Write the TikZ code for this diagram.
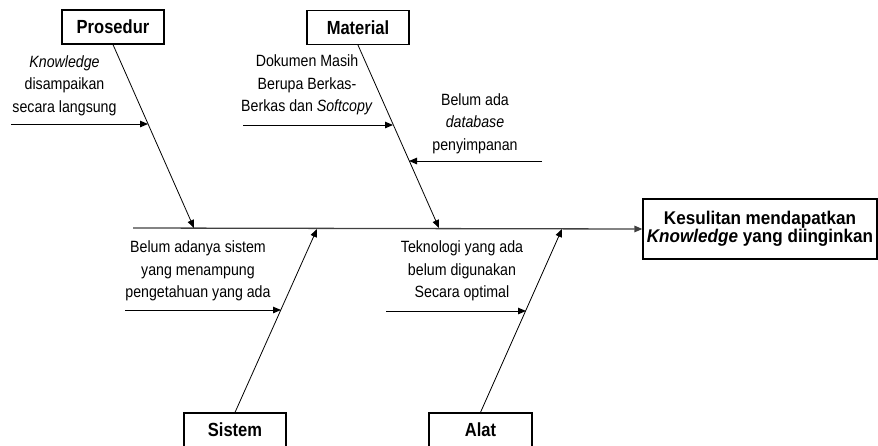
\documentclass[tikz,border=0pt]{standalone}
\usepackage{fontspec}
\setmainfont{Liberation Sans}[FakeStretch=0.87]
\newfontfamily\headfont{Liberation Sans}[FakeStretch=0.87]
\newfontfamily\effectfont{Liberation Sans}[FakeStretch=0.93]
\usetikzlibrary{arrows.meta}
\begin{document}
\begin{tikzpicture}[x=1pt,y=-1pt,
  headbox/.style={draw,line width=1.2pt,minimum height=34pt,inner sep=0pt,
    font=\headfont\fontsize{19}{21}\selectfont\bfseries},
  cause/.style={align=center,inner sep=0pt,
    font=\fontsize{16.3}{22.5}\selectfont},
  tip/.style={-{Triangle[length=8pt,width=6.5pt]}},
  bone/.style={tip,line width=0.8pt},
  minor/.style={tip,line width=1pt},
  spine/.style={tip,line width=1.3pt,draw=black!75}]
\useasboundingbox (0,0) rectangle (878,445);

% category boxes and the effect box
\node[headbox,minimum width=102pt] (prosedur) at (113,27) {Prosedur};
\node[headbox,minimum width=102pt] (material) at (358,27.5) {Material};
\node[headbox,minimum width=102pt] (sistem) at (235,430) {Sistem};
\node[headbox,minimum width=103pt] (alat) at (480.5,430) {Alat};
\node[headbox,minimum width=234pt,minimum height=60pt,align=center,
  font=\effectfont\fontsize{18.4}{18.5}\selectfont\bfseries] (effect) at (760,229)
  {Kesulitan mendapatkan\\\textit{Knowledge} yang diinginkan};

% main spine
\coordinate (tail) at (133,228);
\draw[spine] (tail) -- (effect.west);

% where the bones meet the spine
\coordinate (jp) at (194,228);
\coordinate (jm) at (439,228);
\coordinate (js) at (317,229);
\coordinate (ja) at (562,229);
\draw[bone] (prosedur.south) -- (jp);
\draw[bone] (material.south) -- (jm);
\draw[bone] (sistem.north) -- (js);
\draw[bone] (alat.north) -- (ja);

% causes on the bones
\coordinate (c1s) at (11,124);   \coordinate (c1e) at (148,124);
\coordinate (c2s) at (243,125);  \coordinate (c2e) at (393,125);
\coordinate (c3s) at (542,161);  \coordinate (c3e) at (409,161);
\coordinate (c4s) at (125,310);  \coordinate (c4e) at (281,310);
\coordinate (c5s) at (386,311);  \coordinate (c5e) at (526,311);
\draw[minor] (c1s) -- (c1e);
\draw[minor] (c2s) -- (c2e);
\draw[minor] (c3s) -- (c3e);
\draw[minor] (c4s) -- (c4e);
\draw[minor] (c5s) -- (c5e);

\node[cause] (t1) at (64.5,85.5) {\textit{Knowledge}\\disampaikan\\secara langsung};
\node[cause] (t2) at (307,85) {Dokumen Masih\\Berupa Berkas-\\Berkas dan \textit{Softcopy}};
\node[cause] (t3) at (475,123.5) {Belum ada\\\textit{database}\\penyimpanan};
\node[cause] (t4) at (198,271) {Belum adanya sistem\\yang menampung\\pengetahuan yang ada};
\node[cause] (t5) at (462,271) {Teknologi yang ada\\belum digunakan\\Secara optimal};
\end{tikzpicture}
\end{document}
